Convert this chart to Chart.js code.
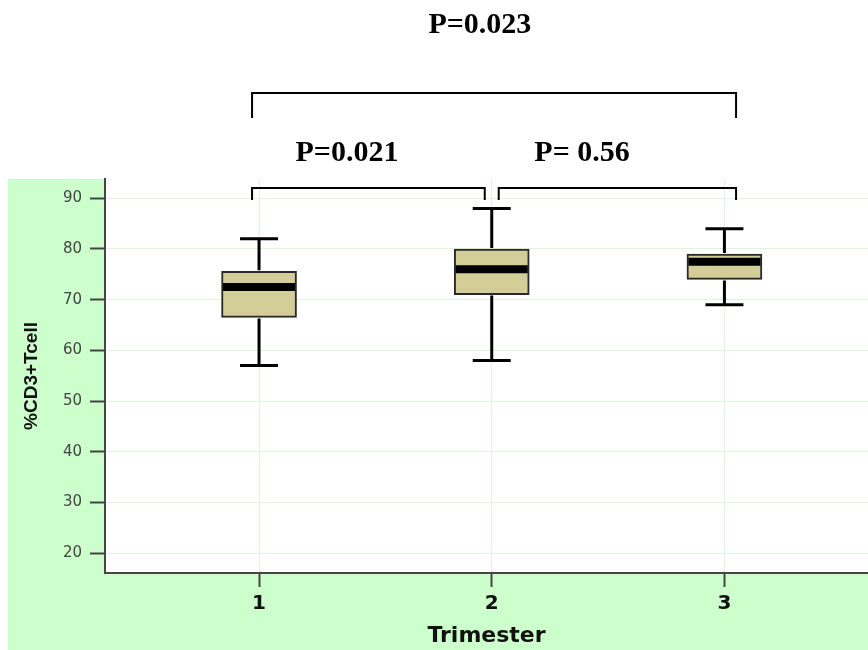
<!DOCTYPE html>
<html>
<head>
<meta charset="utf-8">
<script src="https://cdn.jsdelivr.net/npm/chart.js@4"></script>
<style>
  html, body { margin: 0; padding: 0; background: #fff; }
</style>
</head>
<body>
<canvas id="box-chart" width="868" height="650"></canvas>
<script>
// %CD3+ T cells by trimester (box = quartiles, whiskers = min/max)
const trimesters = [1, 2, 3]
const whiskerLow = [57, 58, 69]
const quartile1 = [66.5, 71, 74]
const medians = [72.5, 76, 77.5]
const quartile3 = [75.6, 80, 79]
const whiskerHigh = [82, 88, 84]
const yTicks = [20, 30, 40, 50, 60, 70, 80, 90]

// brackets over the plot: x in trimester units, y in px from the plot top
const comparisons = [
  { from: 0.97, to: 1.97, top: 9, drop: 21, label: 'P=0.021', labelX: 1.378, labelY: -18 },
  { from: 2.03, to: 3.05, top: 9, drop: 21, label: 'P= 0.56', labelX: 2.388, labelY: -18 },
  { from: 0.97, to: 3.05, top: -86, drop: -61, label: 'P=0.023', labelX: 1.949, labelY: -146 },
]

const boxColor = '#d3cd98'

const backgroundPlugin = {
  id: 'panel',
  beforeDraw(chart) {
    const { ctx, chartArea } = chart
    ctx.save()
    ctx.fillStyle = '#ccffcc'
    ctx.fillRect(8, chartArea.top, chart.width - 8, chart.height - chartArea.top)
    ctx.fillStyle = '#ffffff'
    ctx.fillRect(chartArea.left, chartArea.top, chartArea.right - chartArea.left, chartArea.bottom - chartArea.top)
    ctx.restore()
  }
}

const whiskerPlugin = {
  id: 'whiskers',
  afterDatasetsDraw(chart) {
    const { ctx } = chart
    const xs = chart.scales.x
    const ys = chart.scales.y
    ctx.save()
    ctx.strokeStyle = '#000'
    ctx.lineCap = 'butt'
    trimesters.forEach((t, i) => {
      const x = xs.getPixelForValue(t)
      ctx.lineWidth = 3
      ctx.beginPath()
      ctx.moveTo(x, ys.getPixelForValue(whiskerHigh[i]))
      ctx.lineTo(x, ys.getPixelForValue(quartile3[i]) - 1)
      ctx.moveTo(x, ys.getPixelForValue(quartile1[i]) + 1)
      ctx.lineTo(x, ys.getPixelForValue(whiskerLow[i]))
      ctx.moveTo(x - 19, ys.getPixelForValue(whiskerHigh[i]))
      ctx.lineTo(x + 19, ys.getPixelForValue(whiskerHigh[i]))
      ctx.moveTo(x - 19, ys.getPixelForValue(whiskerLow[i]))
      ctx.lineTo(x + 19, ys.getPixelForValue(whiskerLow[i]))
      ctx.stroke()
      ctx.lineWidth = 8
      ctx.beginPath()
      ctx.moveTo(x - 36, ys.getPixelForValue(medians[i]))
      ctx.lineTo(x + 36, ys.getPixelForValue(medians[i]))
      ctx.stroke()
    })
    ctx.restore()
  }
}

const bracketPlugin = {
  id: 'brackets',
  afterDraw(chart) {
    const { ctx, chartArea } = chart
    const xs = chart.scales.x
    ctx.save()
    ctx.strokeStyle = '#000'
    ctx.lineWidth = 2
    ctx.fillStyle = '#000'
    ctx.font = 'bold 30px "Liberation Serif", "Times New Roman", serif'
    ctx.textAlign = 'center'
    ctx.textBaseline = 'alphabetic'
    comparisons.forEach(c => {
      const x1 = xs.getPixelForValue(c.from)
      const x2 = xs.getPixelForValue(c.to)
      const yTop = chartArea.top + c.top
      const yDrop = chartArea.top + c.drop
      ctx.beginPath()
      ctx.moveTo(x1, yDrop)
      ctx.lineTo(x1, yTop)
      ctx.lineTo(x2, yTop)
      ctx.lineTo(x2, yDrop)
      ctx.stroke()
      ctx.fillText(c.label, xs.getPixelForValue(c.labelX), chartArea.top + c.labelY)
    })
    ctx.restore()
  }
}

const boxChart = new Chart(document.querySelector('#box-chart').getContext('2d'), {
  type: 'bar',
  data: {
    datasets: [{
      label: '%CD3+Tcell',
      data: trimesters.map((t, i) => ({ x: t, y: [quartile1[i], quartile3[i]] })),
      backgroundColor: boxColor,
      borderColor: '#2a2a2a',
      borderWidth: 2,
      borderSkipped: false,
      barThickness: 75,
    }]
  },
  options: {
    responsive: false,
    animation: false,
    layout: { padding: { top: 179, left: 0, right: 0, bottom: 0 } },
    plugins: { legend: { display: false }, tooltip: { enabled: false } },
    scales: {
      x: {
        type: 'linear',
        offset: false,
        min: 0.338,
        max: 3.617,
        afterBuildTicks: scale => { scale.ticks = trimesters.map(v => ({ value: v })) },
        afterFit: scale => { scale.height = 77 },
        grid: { offset: false, color: '#dcf7dc', lineWidth: 1, tickColor: '#444', tickWidth: 2, tickLength: 14 },
        border: { color: '#444', width: 2 },
        ticks: {
          color: '#111',
          padding: 5,
          font: { family: '"DejaVu Sans"', size: 20, weight: 'bold' },
        },
        title: {
          display: true,
          text: 'Trimester',
          color: '#111',
          padding: { top: 0, bottom: 1 },
          font: { family: '"DejaVu Sans"', size: 22, weight: 'bold' },
        },
      },
      y: {
        min: 16.1,
        max: 93.8,
        afterBuildTicks: scale => { scale.ticks = yTicks.map(v => ({ value: v })) },
        afterFit: scale => { scale.width = 105 },
        grid: { color: '#dcf7dc', lineWidth: 1, tickColor: '#444', tickWidth: 2, tickLength: 15 },
        border: { color: '#444', width: 2 },
        ticks: {
          color: '#444',
          padding: 8,
          font: { family: '"DejaVu Sans"', size: 15 },
        },
        title: {
          display: true,
          text: '%CD3+Tcell',
          color: '#111',
          padding: { top: 20, bottom: 0 },
          font: { family: '"Liberation Sans", Arial, sans-serif', size: 19, weight: 'bold' },
        },
      },
    },
  },
  plugins: [backgroundPlugin, whiskerPlugin, bracketPlugin],
})
</script>
</body>
</html>
